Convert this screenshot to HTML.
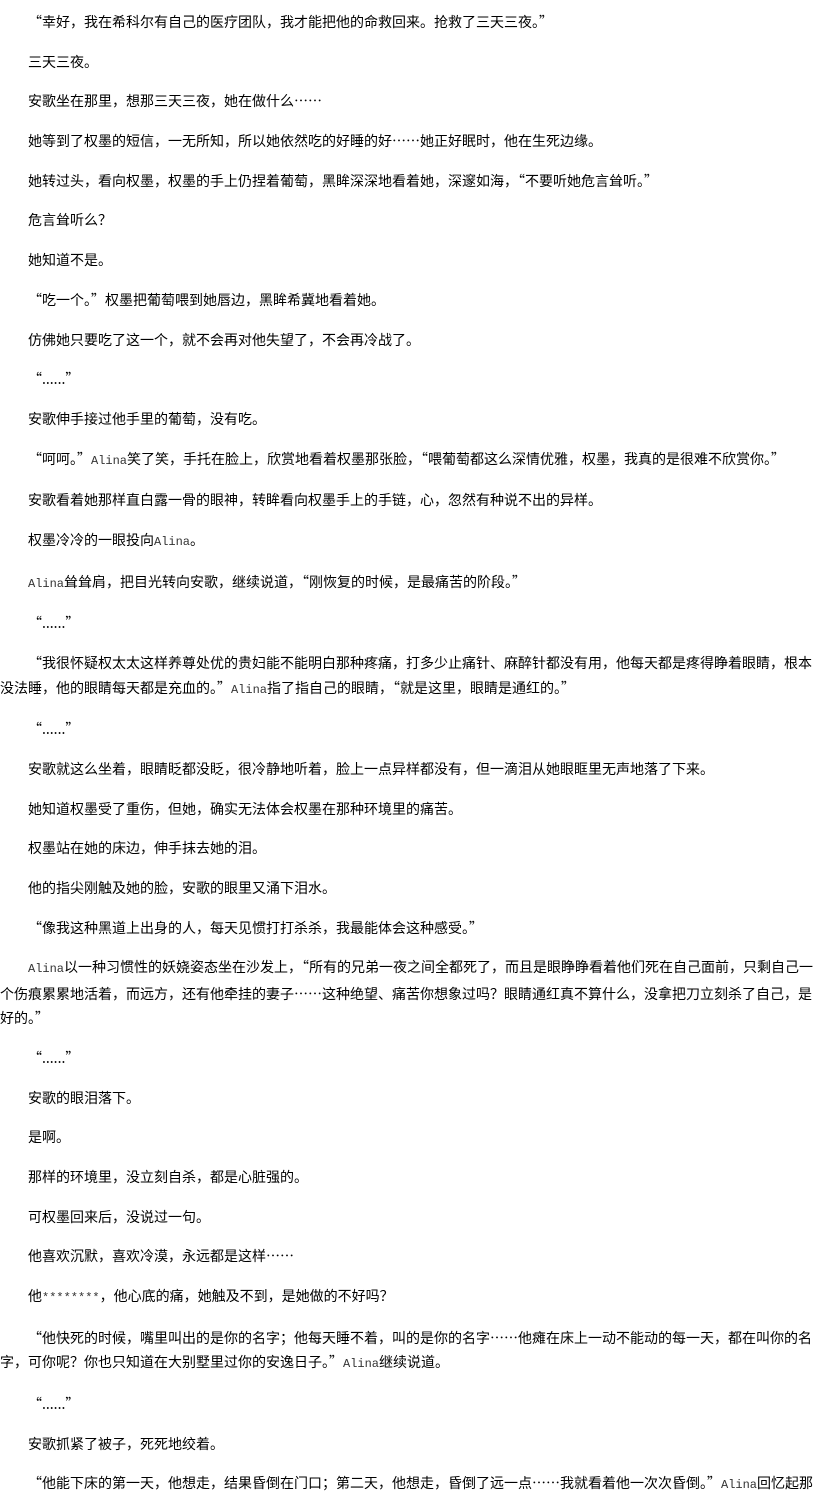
<!DOCTYPE html>
<html><head><meta charset="utf-8"><style>
html,body{margin:0;padding:0;background:#fff;}
body{width:835px;height:1501px;overflow:hidden;padding-top:10px;box-sizing:border-box;font-family:"WenQuanYi Zen Hei","Noto Sans CJK SC",sans-serif;font-size:14px;color:#000;}
p{margin:0 0 15.2px 0;line-height:24.5px;text-indent:28px;white-space:nowrap;}
.a{font-family:"Liberation Mono",monospace;font-size:12px;color:#333;}
</style></head><body>
<p>“幸好，我在希科尔有自己的医疗团队，我才能把他的命救回来。抢救了三天三夜。”</p>
<p>三天三夜。</p>
<p>安歌坐在那里，想那三天三夜，她在做什么……</p>
<p>她等到了权墨的短信，一无所知，所以她依然吃的好睡的好……她正好眠时，他在生死边缘。</p>
<p>她转过头，看向权墨，权墨的手上仍捏着葡萄，黑眸深深地看着她，深邃如海，“不要听她危言耸听。”</p>
<p>危言耸听么？</p>
<p>她知道不是。</p>
<p>“吃一个。”权墨把葡萄喂到她唇边，黑眸希冀地看着她。</p>
<p>仿佛她只要吃了这一个，就不会再对他失望了，不会再冷战了。</p>
<p>“......”</p>
<p>安歌伸手接过他手里的葡萄，没有吃。</p>
<p>“呵呵。”<span class="a">Alina</span>笑了笑，手托在脸上，欣赏地看着权墨那张脸，“喂葡萄都这么深情优雅，权墨，我真的是很难不欣赏你。”</p>
<p>安歌看着她那样直白露一骨的眼神，转眸看向权墨手上的手链，心，忽然有种说不出的异样。</p>
<p>权墨冷冷的一眼投向<span class="a">Alina</span>。</p>
<p><span class="a">Alina</span>耸耸肩，把目光转向安歌，继续说道，“刚恢复的时候，是最痛苦的阶段。”</p>
<p>“......”</p>
<p>“我很怀疑权太太这样养尊处优的贵妇能不能明白那种疼痛，打多少止痛针、麻醉针都没有用，他每天都是疼得睁着眼睛，根本<br>没法睡，他的眼睛每天都是充血的。”<span class="a">Alina</span>指了指自己的眼睛，“就是这里，眼睛是通红的。”</p>
<p>“......”</p>
<p>安歌就这么坐着，眼睛眨都没眨，很冷静地听着，脸上一点异样都没有，但一滴泪从她眼眶里无声地落了下来。</p>
<p>她知道权墨受了重伤，但她，确实无法体会权墨在那种环境里的痛苦。</p>
<p>权墨站在她的床边，伸手抹去她的泪。</p>
<p>他的指尖刚触及她的脸，安歌的眼里又涌下泪水。</p>
<p>“像我这种黑道上出身的人，每天见惯打打杀杀，我最能体会这种感受。”</p>
<p><span class="a">Alina</span>以一种习惯性的妖娆姿态坐在沙发上，“所有的兄弟一夜之间全都死了，而且是眼睁睁看着他们死在自己面前，只剩自己一<br>个伤痕累累地活着，而远方，还有他牵挂的妻子……这种绝望、痛苦你想象过吗？眼睛通红真不算什么，没拿把刀立刻杀了自己，是<br>好的。”</p>
<p>“......”</p>
<p>安歌的眼泪落下。</p>
<p>是啊。</p>
<p>那样的环境里，没立刻自杀，都是心脏强的。</p>
<p>可权墨回来后，没说过一句。</p>
<p>他喜欢沉默，喜欢冷漠，永远都是这样……</p>
<p>他<span class="a">********</span>，他心底的痛，她触及不到，是她做的不好吗？</p>
<p>“他快死的时候，嘴里叫出的是你的名字；他每天睡不着，叫的是你的名字……他瘫在床上一动不能动的每一天，都在叫你的名<br>字，可你呢？你也只知道在大别墅里过你的安逸日子。”<span class="a">Alina</span>继续说道。</p>
<p>“......”</p>
<p>安歌抓紧了被子，死死地绞着。</p>
<p>“他能下床的第一天，他想走，结果昏倒在门口；第二天，他想走，昏倒了远一点……我就看着他一次次昏倒。”<span class="a">Alina</span>回忆起那</p>
</body></html>
